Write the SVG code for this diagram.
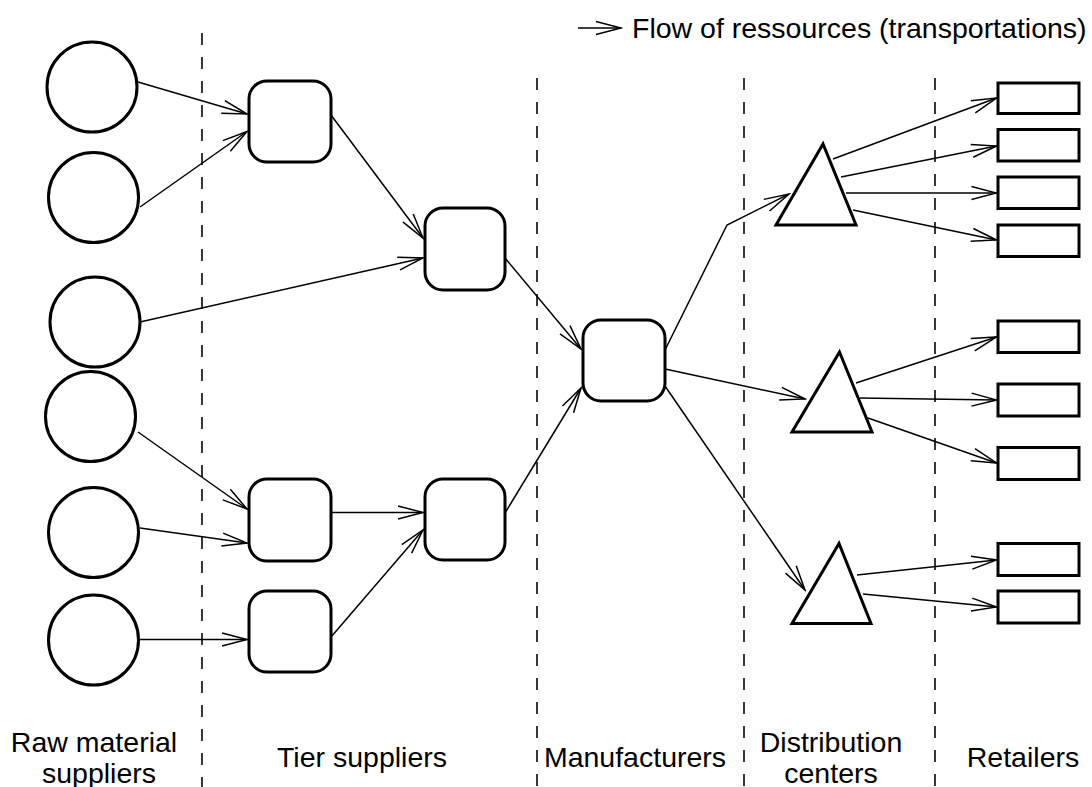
<svg xmlns="http://www.w3.org/2000/svg" width="1092" height="787" viewBox="0 0 1092 787">
<style>
.shape{fill:#fff;stroke:#000;stroke-width:3}
.tri{fill:#fff;stroke:#000;stroke-width:3;stroke-linejoin:miter}
.conn{fill:none;stroke:#000;stroke-width:1.5;marker-end:url(#arr)}
.sep{stroke:#222;stroke-width:1.8;stroke-dasharray:12 12}
text{font-family:"Liberation Sans",Arial,sans-serif;font-size:28.5px;fill:#000}
</style>
<defs>
<marker id="arr" viewBox="-27 -8 29 16" refX="0" refY="0" markerWidth="29" markerHeight="16" markerUnits="userSpaceOnUse" orient="auto">
<path d="M-25,-6.5 L0,0 L-25,6.5" fill="none" stroke="#000" stroke-width="1.5"/>
</marker>
</defs>
<rect width="1092" height="787" fill="#fff"/>
<g id="separators">
<line class="sep" x1="202" y1="33" x2="202" y2="787"/>
<line class="sep" x1="537" y1="78" x2="537" y2="787"/>
<line class="sep" x1="744" y1="78" x2="744" y2="787"/>
<line class="sep" x1="935" y1="78" x2="935" y2="787"/>
</g>
<g id="legend">
<line class="conn" x1="578" y1="28" x2="621" y2="28"/>
<text x="632" y="38">Flow of ressources (transportations)</text>
</g>
<g id="raw1"><circle class="shape" cx="92" cy="87" r="45"/></g>
<g id="raw2"><circle class="shape" cx="93.5" cy="197.5" r="45"/></g>
<g id="raw3"><circle class="shape" cx="95" cy="322" r="45"/></g>
<g id="raw4"><circle class="shape" cx="90.5" cy="416.5" r="45"/></g>
<g id="raw5"><circle class="shape" cx="93.5" cy="532.5" r="45"/></g>
<g id="raw6"><circle class="shape" cx="93.5" cy="640" r="45"/></g>
<g id="tier1"><rect class="shape" x="249" y="81" width="82" height="81" rx="18"/></g>
<g id="tier2"><rect class="shape" x="425" y="208" width="80" height="82" rx="18"/></g>
<g id="tier3"><rect class="shape" x="249" y="479" width="82" height="82" rx="18"/></g>
<g id="tier4"><rect class="shape" x="249" y="591" width="82" height="81" rx="18"/></g>
<g id="tier5"><rect class="shape" x="425" y="479" width="80" height="81" rx="18"/></g>
<g id="manufacturer"><rect class="shape" x="583" y="320" width="82" height="81" rx="18"/></g>
<g id="dc1"><polygon class="tri" points="823,144 776,225 856,225"/></g>
<g id="dc2"><polygon class="tri" points="839.5,352 792,432 872,432"/></g>
<g id="dc3"><polygon class="tri" points="839,543.5 792,623.5 871,623.5"/></g>
<g id="ret1"><rect class="shape" x="998" y="83" width="81" height="30.5"/></g>
<g id="ret2"><rect class="shape" x="998" y="129.5" width="81" height="31.5"/></g>
<g id="ret3"><rect class="shape" x="998" y="177" width="81" height="31.5"/></g>
<g id="ret4"><rect class="shape" x="998" y="225" width="81" height="31.5"/></g>
<g id="ret5"><rect class="shape" x="998" y="321" width="81" height="31.5"/></g>
<g id="ret6"><rect class="shape" x="998" y="384" width="81" height="32"/></g>
<g id="ret7"><rect class="shape" x="998" y="447.5" width="81" height="32"/></g>
<g id="ret8"><rect class="shape" x="998" y="543.5" width="81" height="32"/></g>
<g id="ret9"><rect class="shape" x="998" y="591" width="81" height="32"/></g>
<g id="connectors">
<line class="conn" x1="138" y1="82" x2="247" y2="114"/>
<line class="conn" x1="140" y1="207" x2="247" y2="131.5"/>
<line class="conn" x1="331" y1="115" x2="423" y2="238"/>
<line class="conn" x1="140" y1="322" x2="423" y2="258"/>
<line class="conn" x1="505" y1="258" x2="581" y2="349"/>
<line class="conn" x1="138" y1="432" x2="247" y2="509"/>
<line class="conn" x1="140" y1="528" x2="247" y2="543"/>
<line class="conn" x1="139" y1="639.5" x2="247" y2="639.5"/>
<line class="conn" x1="331" y1="512.5" x2="423" y2="512.5"/>
<line class="conn" x1="331" y1="637" x2="423" y2="530"/>
<line class="conn" x1="505" y1="513" x2="581" y2="388"/>
<polyline class="conn" points="665,350 727,225 789,194"/>
<line class="conn" x1="665" y1="369" x2="805" y2="399"/>
<line class="conn" x1="665" y1="386" x2="805" y2="590"/>
<line class="conn" x1="833" y1="159" x2="996.5" y2="98"/>
<line class="conn" x1="841" y1="177" x2="996.5" y2="146"/>
<line class="conn" x1="846" y1="193" x2="996.5" y2="193"/>
<line class="conn" x1="853" y1="210" x2="996.5" y2="240"/>
<line class="conn" x1="856" y1="383" x2="996.5" y2="337"/>
<line class="conn" x1="860" y1="398" x2="996.5" y2="400"/>
<line class="conn" x1="868" y1="418" x2="996.5" y2="463"/>
<line class="conn" x1="857" y1="575" x2="996.5" y2="560"/>
<line class="conn" x1="863" y1="594" x2="996.5" y2="607"/>
</g>
<g id="labels">
<text x="94" y="752" text-anchor="middle">Raw material</text>
<text x="99" y="783" text-anchor="middle">suppliers</text>
<text x="362" y="767" text-anchor="middle">Tier suppliers</text>
<text x="635" y="767" text-anchor="middle">Manufacturers</text>
<text x="831" y="752" text-anchor="middle">Distribution</text>
<text x="831" y="783" text-anchor="middle">centers</text>
<text x="1023" y="767" text-anchor="middle">Retailers</text>
</g>
</svg>
